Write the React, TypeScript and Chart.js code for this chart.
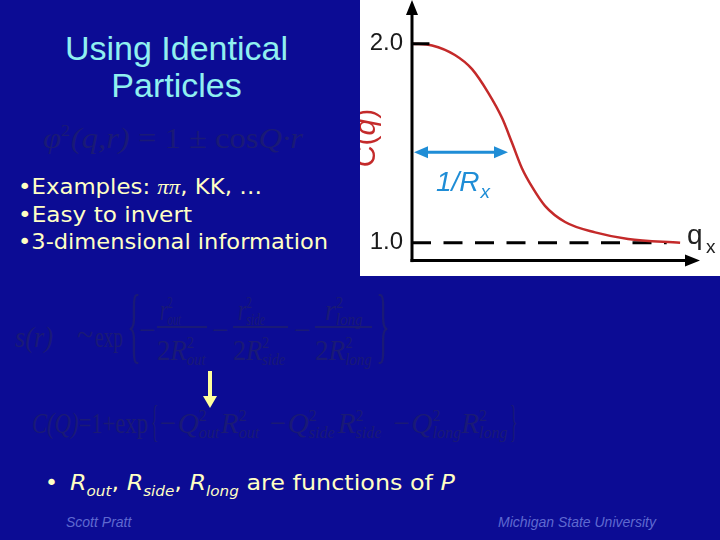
import React, { useEffect, useLayoutEffect, useRef } from "react";
import { Chart, registerables } from "chart.js";

Chart.register(...registerables);

// ---- data ----
const qValues = [0, 0.075, 0.16, 0.224, 0.284, 0.336, 0.373, 0.41, 0.448, 0.496, 0.571, 0.683, 0.806, 1.0];
const cValues = [2.0, 1.991, 1.943, 1.872, 1.754, 1.626, 1.502, 1.374, 1.28, 1.185, 1.104, 1.052, 1.019, 1.0];
const yTickValues = [1.0, 2.0];
const baselineValue = 1.0;
const baselineEndQ = 0.95;
const peakValue = 2.0;
const peakTickEndQ = 0.065;
const widthArrowY = 1.455;
const widthArrowQ = [0, 0.358];
const xRange = [0, 1.063];
const yRange = [0.91, 2.142];

// ---- styles ----
const BG = "#0c0c94";
const TITLE = "#8ff0f0";
const BULLET = "#ffffc4";
const FORMULA = "#1a1a76";
const FOOT = "#5f69d0";
const RED = "#c42a2a";
const BLUE = "#1f8dd6";
const SANS = '"Liberation Sans", Arial, sans-serif';
const SERIF = '"Liberation Serif", "Times New Roman", serif';
const COMIC = '"DejaVu Sans", sans-serif';

const overlay = {
  id: "overlay",
  afterDatasetsDraw(chart: any) {
    const { ctx, chartArea, scales } = chart;
    const x = scales.x;
    const y = scales.y;
    const left = chartArea.left;
    const bottom = chartArea.bottom;
    const right = chartArea.right;
    ctx.save();
    // axes
    ctx.strokeStyle = "#000";
    ctx.fillStyle = "#000";
    ctx.lineWidth = 3;
    ctx.beginPath();
    ctx.moveTo(left, bottom + 1.5);
    ctx.lineTo(left, 12);
    ctx.stroke();
    ctx.beginPath();
    ctx.moveTo(left - 1.5, bottom);
    ctx.lineTo(right - 5, bottom);
    ctx.stroke();
    ctx.beginPath();
    ctx.moveTo(left, 0);
    ctx.lineTo(left - 6, 15);
    ctx.lineTo(left + 6, 15);
    ctx.closePath();
    ctx.fill();
    ctx.beginPath();
    ctx.moveTo(right + 3, bottom);
    ctx.lineTo(right - 12, bottom - 6);
    ctx.lineTo(right - 12, bottom + 6);
    ctx.closePath();
    ctx.fill();

    // width arrow
    const ay = y.getPixelForValue(widthArrowY);
    const a0 = x.getPixelForValue(widthArrowQ[0]) + 2;
    const a1 = x.getPixelForValue(widthArrowQ[1]);
    ctx.strokeStyle = BLUE;
    ctx.fillStyle = BLUE;
    ctx.lineWidth = 3;
    ctx.beginPath();
    ctx.moveTo(a0 + 8, ay);
    ctx.lineTo(a1 - 8, ay);
    ctx.stroke();
    ctx.beginPath();
    ctx.moveTo(a0, ay);
    ctx.lineTo(a0 + 14, ay - 6);
    ctx.lineTo(a0 + 14, ay + 6);
    ctx.closePath();
    ctx.fill();
    ctx.beginPath();
    ctx.moveTo(a1, ay);
    ctx.lineTo(a1 - 14, ay - 6);
    ctx.lineTo(a1 - 14, ay + 6);
    ctx.closePath();
    ctx.fill();

    // 1/R_x label
    ctx.textBaseline = "alphabetic";
    ctx.textAlign = "left";
    ctx.font = `italic 28px ${SANS}`;
    const lx = a0 + 22;
    ctx.fillText("1/R", lx, ay + 39);
    const w = ctx.measureText("1/R").width;
    ctx.font = `italic 19px ${SANS}`;
    ctx.fillText("x", lx + w + 1, ay + 46);

    // q_x label
    const by = y.getPixelForValue(baselineValue);
    ctx.fillStyle = "#222";
    ctx.font = `28px ${SANS}`;
    ctx.fillText("q", right - 10, by + 1);
    ctx.font = `19px ${SANS}`;
    ctx.fillText("x", right + 9, by + 10);

    // C(q) rotated title
    ctx.fillStyle = RED;
    ctx.translate(15, (chartArea.top + chartArea.bottom) / 2);
    ctx.rotate(-Math.PI / 2);
    const parts: [string, string][] = [
      ["C(", `30px ${SANS}`],
      ["q", `italic 30px ${SANS}`],
      [")", `30px ${SANS}`],
    ];
    let total = 0;
    for (const [t, f] of parts) {
      ctx.font = f;
      total += ctx.measureText(t).width;
    }
    let cx = -total / 2;
    for (const [t, f] of parts) {
      ctx.font = f;
      ctx.fillText(t, cx, 0);
      cx += ctx.measureText(t).width;
    }
    ctx.restore();
  },
};

// Text placed by its baseline; optional w stretches it to a target width.
function T(props: {
  x: number;
  b: number;
  size: number;
  w?: number;
  family?: string;
  color?: string;
  italic?: boolean;
  children: React.ReactNode;
}) {
  const ref = useRef<HTMLDivElement>(null);
  const family = props.family || SERIF;
  const k = family === SERIF ? 0.8375 : 0.846;
  useLayoutEffect(() => {
    const el = ref.current;
    if (!el || !props.w) return;
    el.style.transform = "none";
    const w = el.getBoundingClientRect().width;
    if (w > 0) el.style.transform = `scaleX(${props.w / w})`;
  });
  return (
    <div
      ref={ref}
      style={{
        position: "absolute",
        left: props.x,
        top: props.b - k * props.size,
        fontFamily: family,
        fontSize: props.size,
        lineHeight: `${props.size}px`,
        fontStyle: props.italic ? "italic" : "normal",
        color: props.color || FORMULA,
        whiteSpace: "nowrap",
        transformOrigin: "left top",
      }}
    >
      {props.children}
    </div>
  );
}

// stacked superscript / subscript
function SS({ sup, sub, size = 30 }: { sup?: string; sub?: string; size?: number }) {
  const fs = size * 0.55;
  const n = Math.max(sup ? sup.length : 0, sub ? sub.length : 0);
  const piece: React.CSSProperties = {
    position: "absolute",
    left: 0,
    fontSize: fs,
    lineHeight: `${fs}px`,
    whiteSpace: "nowrap",
  };
  return (
    <span style={{ position: "relative", display: "inline-block", width: n * 0.42 * fs + 2, height: 0 }}>
      {sup && <span style={{ ...piece, top: -0.38 * size - 0.8375 * fs, fontStyle: "normal" }}>{sup}</span>}
      {sub && <span style={{ ...piece, top: 0.2 * size - 0.8375 * fs, fontStyle: "italic" }}>{sub}</span>}
    </span>
  );
}

function Brace({ x, top, h, ch }: { x: number; top: number; h: number; ch: string }) {
  return (
    <div
      style={{
        position: "absolute",
        left: x,
        top,
        height: h,
        fontFamily: SERIF,
        fontSize: h,
        lineHeight: `${h}px`,
        color: FORMULA,
        transform: "scaleX(0.35)",
        transformOrigin: "left top",
      }}
    >
      {ch}
    </div>
  );
}

const sub: React.CSSProperties = { fontSize: 14, position: "relative", top: 6, fontStyle: "italic" };

export default function App() {
  const canvasRef = useRef<HTMLCanvasElement>(null);

  useEffect(() => {
    const chart = new Chart(canvasRef.current as HTMLCanvasElement, {
      type: "line",
      data: {
        datasets: [
          {
            label: "tick",
            data: [
              { x: 0, y: peakValue },
              { x: peakTickEndQ, y: peakValue },
            ],
            borderColor: "#000",
            borderWidth: 3,
            pointRadius: 0,
            order: 1,
          },
          {
            label: "C(q)",
            data: qValues.map((q, i) => ({ x: q, y: cValues[i] })),
            borderColor: RED,
            borderWidth: 2.5,
            pointRadius: 0,
            cubicInterpolationMode: "monotone",
            order: 2,
          },
          {
            label: "baseline",
            data: [
              { x: 0, y: baselineValue },
              { x: baselineEndQ, y: baselineValue },
            ],
            borderColor: "#000",
            borderWidth: 3,
            borderDash: [19, 12.5],
            pointRadius: 0,
            order: 3,
          },
        ],
      },
      options: {
        responsive: false,
        maintainAspectRatio: false,
        animation: false,
        layout: { padding: { top: 8, right: 23, left: 0, bottom: 0 } },
        plugins: { legend: { display: false }, tooltip: { enabled: false } },
        scales: {
          x: {
            type: "linear",
            min: xRange[0],
            max: xRange[1],
            grid: { display: false },
            border: { display: false },
            ticks: { display: false },
            afterFit: (s: any) => {
              s.height = 8;
            },
          },
          y: {
            type: "linear",
            min: yRange[0],
            max: yRange[1],
            grid: { display: false },
            border: { display: false },
            ticks: {
              padding: 1,
              color: "#1a1a1a",
              font: { family: SANS, size: 24 },
              callback: (v: any) => Number(v).toFixed(1),
            },
            afterBuildTicks: (s: any) => {
              s.ticks = yTickValues.map((v) => ({ value: v }));
            },
            afterFit: (s: any) => {
              s.width = 52;
            },
          },
        },
      } as any,
      plugins: [overlay],
    });
    return () => chart.destroy();
  }, []);

  return (
    <div
      style={{
        position: "absolute",
        left: 0,
        top: 0,
        width: 720,
        height: 540,
        background: BG,
        overflow: "hidden",
      }}
    >
      <div style={{ position: "absolute", left: 360, top: 0, width: 360, height: 276, background: "#fff" }}>
        <canvas ref={canvasRef} width={360} height={276} style={{ display: "block" }} />
      </div>

      {/* Title */}
      <div
        style={{
          position: "absolute",
          left: 0,
          width: 353,
          top: 60 - 0.8465 * 34,
          textAlign: "center",
          fontFamily: SANS,
          fontSize: 34,
          lineHeight: "34px",
          color: TITLE,
        }}
      >
        Using Identical
      </div>
      <div
        style={{
          position: "absolute",
          left: 0,
          width: 353,
          top: 97 - 0.8465 * 34,
          textAlign: "center",
          fontFamily: SANS,
          fontSize: 34,
          lineHeight: "34px",
          color: TITLE,
        }}
      >
        Particles
      </div>

      {/* phi^2 formula */}
      <T x={43} b={148} size={30} w={260} italic>
        φ<SS sup="2" />(q,r)<span style={{ fontStyle: "normal" }}> = 1 ± cos</span>Q·r
      </T>

      {/* bullets */}
      <T x={18} b={195} size={22} w={244} family={COMIC} color={BULLET}>
        •Examples: <span style={{ fontFamily: SERIF, fontStyle: "italic" }}>ππ</span>, KK, …
      </T>
      <T x={18} b={223} size={22} w={174} family={COMIC} color={BULLET}>
        •Easy to invert
      </T>
      <T x={18} b={250} size={22} w={310} family={COMIC} color={BULLET}>
        •3-dimensional information
      </T>

      {/* s(r) formula */}
      <T x={15} b={347} size={30} w={38} italic>
        s(r)
      </T>
      <T x={77} b={345} size={30}>
        ~
      </T>
      <T x={95} b={347} size={30} w={28}>
        exp
      </T>
      <Brace x={127} top={283} h={84} ch="{" />
      <T x={139} b={340} size={30}>
        −
      </T>
      <T x={160} b={320} size={30} w={22} italic>
        r<SS sup="2" sub="out" />
      </T>
      <div style={{ position: "absolute", left: 157, top: 326, width: 50, height: 1.5, background: FORMULA }} />
      <T x={157} b={360} size={30} w={50}>
        2<i>R</i>
        <SS sup="2" sub="out" />
      </T>
      <T x={212} b={340} size={30}>
        −
      </T>
      <T x={238} b={320} size={30} w={29} italic>
        r<SS sup="2" sub="side" />
      </T>
      <div style={{ position: "absolute", left: 233, top: 326, width: 55, height: 1.5, background: FORMULA }} />
      <T x={233} b={360} size={30} w={55}>
        2<i>R</i>
        <SS sup="2" sub="side" />
      </T>
      <T x={294} b={340} size={30}>
        −
      </T>
      <T x={325} b={320} size={30} w={38} italic>
        r<SS sup="2" sub="long" />
      </T>
      <div style={{ position: "absolute", left: 315, top: 326, width: 57, height: 1.5, background: FORMULA }} />
      <T x={315} b={360} size={30} w={57}>
        2<i>R</i>
        <SS sup="2" sub="long" />
      </T>
      <Brace x={376} top={283} h={84} ch="}" />

      {/* yellow arrow */}
      <svg style={{ position: "absolute", left: 202, top: 371 }} width={16} height={38}>
        <rect x={6} y={0} width={4} height={26} fill="#ffff9c" />
        <polygon points="1,25 15,25 8,37" fill="#ffff9c" />
      </svg>

      {/* C(Q) formula */}
      <T x={32} b={433} size={30} w={116} italic>
        C(Q)<span style={{ fontStyle: "normal" }}>=1+exp</span>
      </T>
      <Brace x={151} top={400} h={44} ch="{" />
      <T x={158} b={433} size={30} w={350} italic>
        −Q<SS sup="2" sub="out" />R<SS sup="2" sub="out" /> −Q<SS sup="2" sub="side" />R
        <SS sup="2" sub="side" /> −Q<SS sup="2" sub="long" />R<SS sup="2" sub="long" />
      </T>
      <Brace x={510} top={400} h={44} ch="}" />

      {/* bottom bullet */}
      <T x={45} b={491} size={22} family={COMIC} color={BULLET}>
        •
      </T>
      <T x={70} b={491} size={22} w={385} family={COMIC} color={BULLET}>
        <i>R</i>
        <span style={sub}>out</span>, <i>R</i>
        <span style={sub}>side</span>, <i>R</i>
        <span style={sub}>long</span> are functions of <i>P</i>
      </T>

      {/* footer */}
      <T x={66} b={527} size={14} family={SANS} color={FOOT} italic>
        Scott Pratt
      </T>
      <T x={498} b={527} size={14} family={SANS} color={FOOT} italic>
        Michigan State University
      </T>
    </div>
  );
}
